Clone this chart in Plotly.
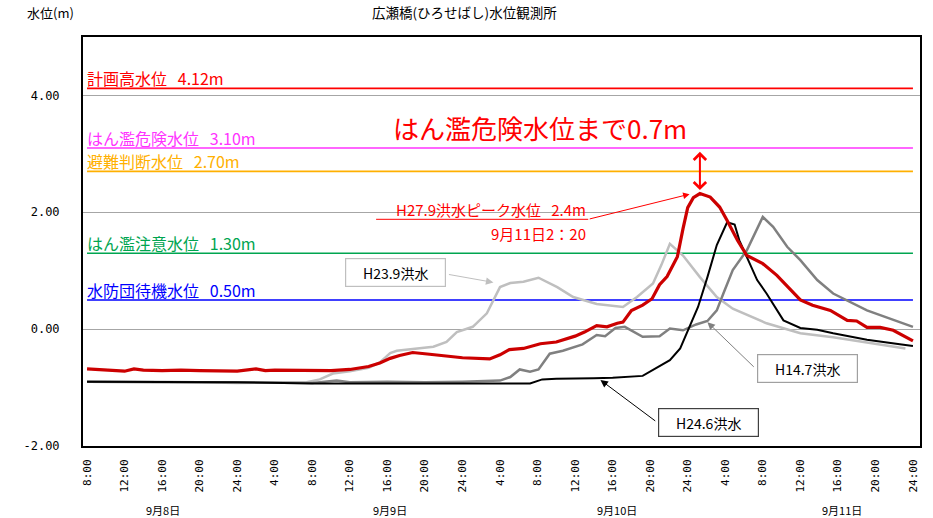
import plotly.graph_objects as go

FONT = "Noto Sans CJK JP"
MONO = "DejaVu Sans Mono"

# ---------------- data ----------------
# time axis: hours since 9/8 8:00
tick_hours = [0, 4, 8, 12, 16, 20, 24, 28, 32, 36, 40, 44, 48, 52, 56, 60, 64, 68, 72, 76, 80, 84, 88]
tick_labels = ["8:00", "12:00", "16:00", "20:00", "24:00", "4:00",
               "8:00", "12:00", "16:00", "20:00", "24:00", "4:00",
               "8:00", "12:00", "16:00", "20:00", "24:00", "4:00",
               "8:00", "12:00", "16:00", "20:00", "24:00"]
day_labels = ["9月8日", "9月9日", "9月10日", "9月11日"]
day_label_hours = [8.1, 32.3, 56.5, 80.4]

y_ticks = [-2, 0, 2, 4]
y_tick_labels = ["-2.00", "0.00", "2.00", "4.00"]

level_names = ["計画高水位", "はん濫危険水位", "避難判断水位", "はん濫注意水位", "水防団待機水位"]
level_values = [4.12, 3.10, 2.70, 1.30, 0.50]

# H27.9 flood (red)
h279_hours = [0, 2, 4, 5, 6, 8, 10, 12, 14, 16, 18, 19, 20, 22, 24, 26, 28, 30, 31.2, 32.3, 33.3,
              34.7, 36.5, 38, 40, 42.9, 44, 45, 46.5, 48.3, 50, 52, 53, 54.3, 55.4, 56.5, 57.1,
              58, 59.2, 60.2, 61, 61.8, 62.9, 63.5, 64, 64.6, 65.3, 66.4, 67.4, 68.2, 69.3, 70.3,
              72, 73.5, 76, 77.3, 79.2, 81, 82, 83.1, 84.5, 85.9, 87, 88]
h279_vals = [-0.68, -0.70, -0.72, -0.68, -0.70, -0.71, -0.70, -0.71, -0.72, -0.72, -0.68, -0.71,
             -0.70, -0.70, -0.70, -0.71, -0.69, -0.64, -0.58, -0.50, -0.45,
             -0.40, -0.43, -0.46, -0.49, -0.51, -0.44, -0.35, -0.33, -0.25, -0.22, -0.12, -0.05,
             0.06, 0.04, 0.10, 0.12, 0.32, 0.41, 0.52, 0.76, 0.90, 1.24, 1.72, 2.08, 2.25, 2.32,
             2.26, 2.09, 1.86, 1.52, 1.26, 1.12, 0.92, 0.50, 0.41, 0.32, 0.15, 0.14, 0.03, 0.03,
             -0.02, -0.12, -0.20]

# H23.9 flood (light gray)
h239_hours = [0, 4, 8, 12, 16, 20, 23.4, 24.8, 26.2, 28, 30, 31.2, 32.3, 33, 35, 36.9, 38.3, 39.4,
              41.1, 42.6, 44, 45.1, 46.5, 48.1, 50.1, 51.8, 54.3, 57.1, 58.6, 60.3, 61.2, 62.1,
              63.5, 65.3, 67.1, 68.8, 72.4, 76, 79.5, 83.1, 87.2]
h239_vals = [-0.90, -0.90, -0.90, -0.91, -0.92, -0.92, -0.91, -0.86, -0.76, -0.72, -0.66, -0.57,
             -0.41, -0.37, -0.33, -0.30, -0.22, -0.05, 0.04, 0.27, 0.72, 0.79, 0.81, 0.88, 0.72,
             0.55, 0.43, 0.38, 0.55, 0.78, 1.10, 1.46, 1.26, 0.89, 0.55, 0.35, 0.10, -0.07,
             -0.14, -0.23, -0.33]

# H14.7 flood (dark gray)
h147_hours = [0, 8, 16, 24, 26.6, 28, 32, 36, 40, 44, 45.1, 46.1, 47.2, 48.1, 49.3, 50.7, 52.8,
              54.3, 55.2, 56.3, 57.3, 59.2, 61, 62.1, 63.5, 64.9, 66.1, 67.1, 67.8, 68.8, 70.3,
              72, 73.1, 74.6, 76, 77.8, 79.5, 83.1, 88]
h147_vals = [-0.90, -0.91, -0.92, -0.92, -0.88, -0.91, -0.90, -0.91, -0.90, -0.88, -0.82, -0.69,
             -0.73, -0.69, -0.42, -0.37, -0.26, -0.10, -0.12, 0.02, 0.04, -0.13, -0.12, 0.01,
             -0.02, 0.08, 0.14, 0.32, 0.61, 1.01, 1.35, 1.92, 1.75, 1.41, 1.18, 0.84, 0.61,
             0.32, 0.04]

# H24.6 flood (black)
h246_hours = [0, 8, 16, 24, 32, 40, 47.2, 48.5, 50, 54, 56, 59.2, 61, 62.1, 63.2, 64.2, 65.1,
              66.1, 67.1, 68.2, 69, 69.5, 70.3, 71.4, 72.4, 74.2, 76, 77.8, 79.5, 83.1, 86.6, 88]
h246_vals = [-0.90, -0.90, -0.91, -0.93, -0.93, -0.93, -0.93, -0.86, -0.85, -0.84, -0.83, -0.80,
             -0.63, -0.53, -0.33, 0.04, 0.38, 0.89, 1.44, 1.83, 1.79, 1.52, 1.24, 0.84, 0.61,
             0.15, 0.02, -0.01, -0.07, -0.18, -0.26, -0.29]

peak_hour = 65.3
peak_value = 2.32

# ---------------- styles ----------------
level_colors = ["#FF0000", "#FF33FF", "#FFB000", "#00A550", "#0000FF"]
GAP = "\u00a0\u00a0\u00a0"

fig = go.Figure()

x0, x1 = tick_hours[0], tick_hours[-1]
for name, val, col in zip(level_names, level_values, level_colors):
    fig.add_trace(go.Scatter(x=[x0, x1], y=[val, val], mode="lines",
                             line=dict(color=col, width=1.6), hoverinfo="skip"))
    fig.add_annotation(x=x0, y=val, xref="x", yref="y", xanchor="left", yanchor="bottom",
                       text=f"{name}{GAP}{val:.2f}m", showarrow=False, yshift=-4, xshift=-2,
                       font=dict(family=FONT, size=16, color=col))

fig.add_trace(go.Scatter(x=h239_hours, y=h239_vals, mode="lines",
                         line=dict(color="#BFBFBF", width=2.5)))
fig.add_trace(go.Scatter(x=h147_hours, y=h147_vals, mode="lines",
                         line=dict(color="#808080", width=2.5)))
fig.add_trace(go.Scatter(x=h246_hours, y=h246_vals, mode="lines",
                         line=dict(color="#000000", width=2)))
fig.add_trace(go.Scatter(x=h279_hours, y=h279_vals, mode="lines",
                         line=dict(color="#CC0000", width=3.2)))

# big message + double arrow
fig.add_annotation(x=48.3, y=3.45, xref="x", yref="y", text="はん濫危険水位まで0.7m",
                   showarrow=False, font=dict(family=FONT, size=26, color="#FF0000"))
fig.add_annotation(x=peak_hour, y=peak_value + 0.06, ax=peak_hour, ay=level_values[1] - 0.04,
                   xref="x", yref="y", axref="x", ayref="y", text="", showarrow=True,
                   arrowhead=4, arrowside="end+start", startarrowhead=4, arrowsize=1.2,
                   startarrowsize=1.2, arrowwidth=2, arrowcolor="#FF0000")

# peak callout
fig.add_annotation(x=53.4, y=1.88, xref="x", yref="y", xanchor="right", yanchor="bottom",
                   text=f"H27.9洪水ピーク水位{GAP}2.4m", showarrow=False, yshift=-3,
                   font=dict(family=FONT, size=15, color="#FF0000"))
fig.add_annotation(x=53.4, y=1.88, xref="x", yref="y", xanchor="right", yanchor="top",
                   text="9月11日2：20", showarrow=False, yshift=-2,
                   font=dict(family=FONT, size=15, color="#FF0000"))
fig.add_shape(type="line", x0=30.8, x1=53.4, y0=1.88, y1=1.88, xref="x", yref="y",
              line=dict(color="#FF0000", width=1))
fig.add_annotation(x=peak_hour - 1.1, y=peak_value - 0.01, ax=53.4, ay=1.88, xref="x", yref="y",
                   axref="x", ayref="y", text="", showarrow=True, arrowhead=2, arrowsize=1.3,
                   arrowwidth=1, arrowcolor="#FF0000")

# flood label boxes
boxes = [("H23.9洪水", 32.9, 0.97, "#BFBFBF", 38.4, 0.94, 43.3, 0.80, "#BFBFBF"),
         ("H14.7洪水", 76.8, -0.68, "#A0A0A0", 71.2, -0.67, 66.1, 0.12, "#808080"),
         ("H24.6洪水", 66.2, -1.60, "#404040", 60.7, -1.59, 54.7, -0.87, "#000000")]
for txt, bx, by, bcol, tx, ty, hx, hy, acol in boxes:
    fig.add_annotation(x=bx, y=by, xref="x", yref="y", text=txt, showarrow=False,
                       width=97, height=25, borderpad=1, bordercolor=bcol, borderwidth=1.2,
                       bgcolor="white", font=dict(family=FONT, size=14, color="black"))
    fig.add_annotation(x=hx, y=hy, ax=tx, ay=ty, xref="x", yref="y", axref="x", ayref="y",
                       text="", showarrow=True, arrowhead=2, arrowsize=1.5, arrowwidth=1,
                       arrowcolor=acol)

# day labels
for lab, hx in zip(day_labels, day_label_hours):
    fig.add_annotation(x=hx, y=-0.18, xref="x", yref="paper", text=lab, showarrow=False,
                       font=dict(family=FONT, size=11, color="black"))

# titles
fig.add_annotation(x=0.456, y=1.0, xref="paper", yref="paper", yanchor="middle", yshift=25,
                   text="広瀬橋(ひろせばし)水位観測所", showarrow=False,
                   font=dict(family=FONT, size=13.5, color="black"))
fig.add_annotation(x=-0.069, y=1.0, xref="paper", yref="paper", yanchor="middle", yshift=25,
                   text="水位(m)", showarrow=False,
                   font=dict(family=FONT, size=13, color="black"))

fig.update_layout(
    width=933, height=518, autosize=False,
    margin=dict(l=83, r=13, t=37, b=72),
    plot_bgcolor="white", paper_bgcolor="white",
    showlegend=False,
    font=dict(family=FONT, color="black"),
)
fig.update_xaxes(range=[-0.43, 88.75], tickvals=tick_hours, ticktext=tick_labels,
                 tickangle=-90, tickfont=dict(family=MONO, size=11, color="black"),
                 showgrid=False, zeroline=False, showline=True, linecolor="black",
                 linewidth=2, mirror=True, ticks="", ticklabelstandoff=7)
fig.update_yaxes(range=[-2, 5], tickvals=y_ticks, ticktext=y_tick_labels,
                 tickfont=dict(family=MONO, size=12, color="black"),
                 showgrid=True, gridcolor="#A6A6A6", gridwidth=1, zeroline=False,
                 showline=True, linecolor="black", linewidth=2, mirror=True, ticks="",
                 ticklabelstandoff=19)

# remove the default page margin so the figure sits at the window's top-left corner
fig.write_html("out.html", config={"displayModeBar": False},
               post_script="document.body.style.margin='0px';")
